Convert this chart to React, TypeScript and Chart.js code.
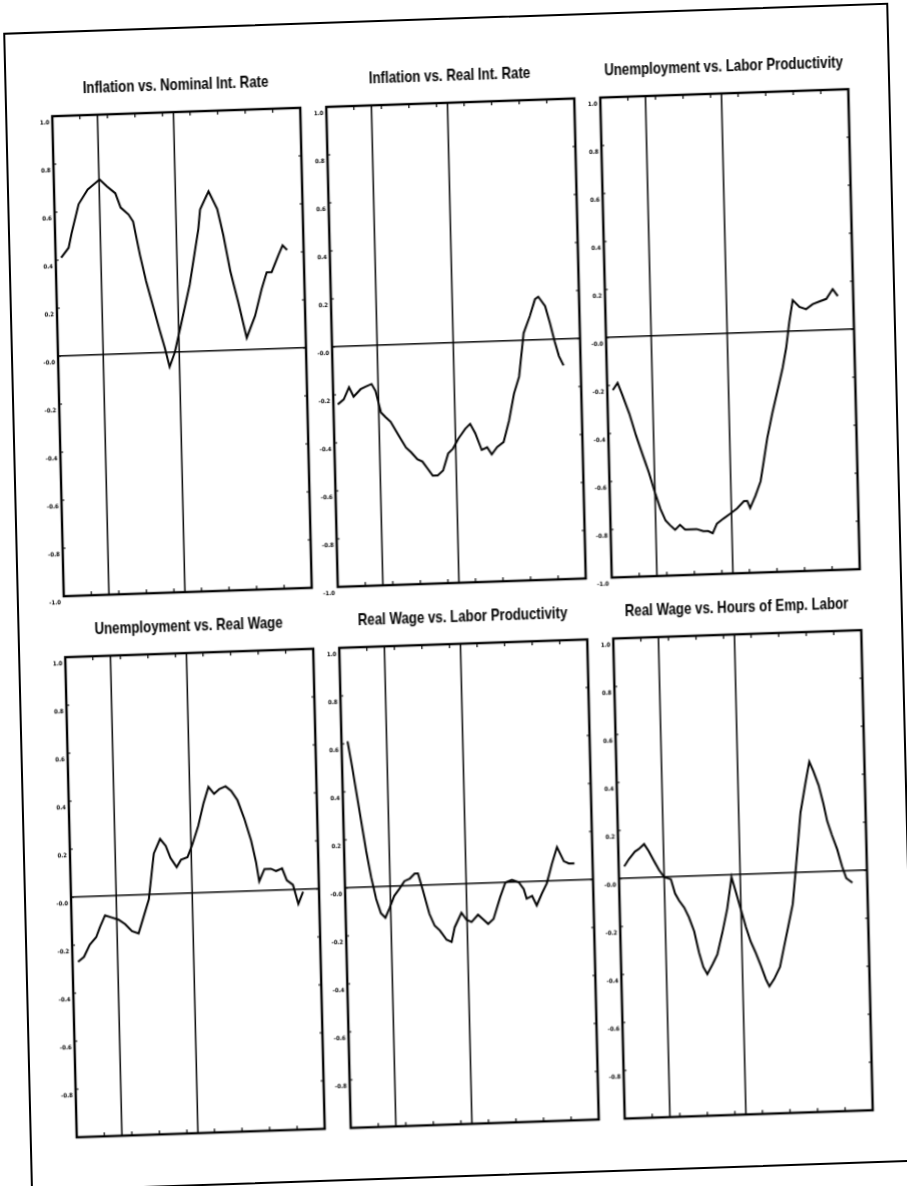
import React, { useEffect, useRef } from "react";
import { Chart, registerables } from "chart.js";

Chart.register(...registerables);

// ---------- data ----------
const TITLES = [
  "Inflation vs. Nominal Int. Rate",
  "Inflation vs. Real Int. Rate",
  "Unemployment vs. Labor Productivity",
  "Unemployment vs. Real Wage",
  "Real Wage vs. Labor Productivity",
  "Real Wage vs. Hours of Emp. Labor",
];

const X_MIN = 0;
const X_MAX = 45;
const X_STEP = 5;
const Y_MIN = -1;
const Y_MAX = 1;
const Y_STEP = 0.2;
const MARKER_LAGS = [8.2, 22.0];

const lags1 = [1.0, 2.4, 3.0, 4.4, 6.1, 8.3, 9.6, 11.1, 12.0, 13.4, 14.2, 15.3, 16.3, 17.5, 18.6, 19.4, 20.2, 21.2, 22.5, 24.2, 26.0, 26.4, 28.0, 29.5, 30.5, 31.6, 32.9, 34.3, 35.9, 37.2, 38.2, 39.1, 40.4, 41.2, 42.0];
const corr1 = [0.41, 0.45, 0.51, 0.63, 0.69, 0.73, 0.70, 0.67, 0.61, 0.58, 0.55, 0.41, 0.30, 0.19, 0.09, 0.02, -0.06, 0.00, 0.12, 0.28, 0.51, 0.59, 0.665, 0.59, 0.48, 0.33, 0.20, 0.05, 0.14, 0.25, 0.32, 0.32, 0.39, 0.43, 0.41];

const lags2 = [0.8, 1.9, 2.9, 3.7, 5.0, 5.9, 7.0, 7.7, 8.6, 9.4, 10.3, 11.5, 13.0, 13.9, 15.0, 15.9, 16.8, 17.7, 18.6, 19.6, 20.6, 21.5, 22.5, 23.8, 24.7, 25.6, 26.7, 27.7, 28.5, 29.5, 30.7, 31.8, 32.8, 33.8, 34.8, 36.0, 37.0, 37.6, 38.8, 39.6, 40.4, 41.1, 41.9];
const corr2 = [-0.24, -0.22, -0.17, -0.21, -0.18, -0.17, -0.16, -0.19, -0.28, -0.30, -0.32, -0.37, -0.43, -0.45, -0.48, -0.49, -0.52, -0.55, -0.55, -0.53, -0.46, -0.44, -0.40, -0.36, -0.34, -0.38, -0.45, -0.44, -0.47, -0.44, -0.42, -0.33, -0.22, -0.15, 0.03, 0.10, 0.17, 0.18, 0.14, 0.07, -0.01, -0.07, -0.11];

const lags3 = [1.0, 1.9, 2.7, 3.9, 5.0, 6.1, 7.2, 8.3, 9.1, 10.0, 10.8, 11.7, 12.6, 13.5, 14.4, 15.6, 16.8, 17.7, 18.5, 19.3, 20.5, 21.8, 23.0, 24.3, 24.9, 25.4, 26.4, 27.4, 28.1, 28.8, 29.8, 30.8, 31.9, 32.6, 33.3, 34.0, 35.2, 36.4, 37.6, 38.8, 40.1, 41.3, 42.2];
const corr3 = [-0.22, -0.19, -0.24, -0.32, -0.41, -0.49, -0.57, -0.66, -0.72, -0.77, -0.79, -0.81, -0.79, -0.81, -0.81, -0.81, -0.82, -0.82, -0.83, -0.79, -0.77, -0.75, -0.73, -0.70, -0.70, -0.73, -0.68, -0.62, -0.53, -0.44, -0.34, -0.25, -0.15, -0.07, 0.04, 0.13, 0.10, 0.09, 0.11, 0.12, 0.13, 0.17, 0.14];

const lags4 = [1.0, 2.1, 3.2, 4.4, 5.1, 6.1, 7.3, 8.5, 9.7, 10.9, 12.1, 13.1, 14.1, 15.2, 16.4, 17.4, 18.2, 19.3, 20.1, 21.3, 22.2, 23.4, 24.4, 25.4, 26.4, 27.4, 28.5, 29.5, 30.6, 31.8, 32.9, 33.7, 34.2, 35.2, 36.4, 37.3, 38.4, 39.2, 40.3, 41.2, 42.1];
const corr4 = [-0.27, -0.25, -0.20, -0.17, -0.13, -0.08, -0.09, -0.10, -0.12, -0.15, -0.16, -0.09, -0.02, 0.17, 0.23, 0.20, 0.15, 0.11, 0.14, 0.15, 0.20, 0.28, 0.37, 0.44, 0.41, 0.43, 0.44, 0.42, 0.38, 0.30, 0.21, 0.12, 0.04, 0.09, 0.09, 0.08, 0.09, 0.04, 0.02, -0.06, -0.01];

const lags5 = [1.1, 1.9, 2.7, 3.2, 4.0, 4.8, 5.6, 6.4, 7.2, 8.0, 8.9, 9.9, 10.8, 11.8, 12.7, 13.3, 14.1, 15.2, 16.1, 17.0, 18.2, 19.1, 19.7, 21.0, 21.9, 22.8, 24.0, 24.9, 25.8, 26.8, 28.1, 29.1, 30.3, 31.5, 32.4, 32.9, 33.9, 34.7, 35.7, 36.6, 37.6, 38.6, 39.2, 39.8, 40.7, 41.7];
const corr5 = [0.61, 0.49, 0.36, 0.28, 0.15, 0.04, -0.05, -0.11, -0.13, -0.09, -0.04, -0.01, 0.02, 0.03, 0.05, 0.05, -0.02, -0.12, -0.17, -0.19, -0.23, -0.24, -0.18, -0.12, -0.15, -0.16, -0.13, -0.15, -0.17, -0.15, -0.06, 0.00, 0.01, 0.00, -0.03, -0.07, -0.06, -0.10, -0.05, -0.01, 0.07, 0.14, 0.11, 0.08, 0.07, 0.07];

const lags6 = [1.0, 1.9, 3.0, 3.7, 4.7, 5.5, 6.4, 7.3, 8.2, 9.4, 10.1, 10.8, 11.7, 12.5, 13.4, 14.2, 14.9, 15.6, 16.6, 17.5, 18.5, 19.5, 20.4, 21.1, 21.9, 22.8, 23.6, 24.5, 25.3, 26.2, 26.8, 27.7, 28.8, 29.6, 30.5, 31.4, 32.4, 33.2, 34.2, 35.0, 35.7, 36.6, 37.4, 38.0, 38.8, 39.7, 40.5, 41.2, 42.3];
const corr6 = [0.05, 0.08, 0.11, 0.12, 0.14, 0.11, 0.07, 0.03, 0.00, -0.01, -0.07, -0.10, -0.13, -0.17, -0.23, -0.32, -0.38, -0.41, -0.37, -0.33, -0.24, -0.14, -0.01, -0.07, -0.14, -0.22, -0.28, -0.33, -0.38, -0.44, -0.47, -0.44, -0.39, -0.31, -0.22, -0.13, 0.08, 0.25, 0.37, 0.46, 0.42, 0.36, 0.28, 0.21, 0.15, 0.09, 0.02, -0.03, -0.05];

const SERIES_LAGS = [lags1, lags2, lags3, lags4, lags5, lags6];
const SERIES_VALUES = [corr1, corr2, corr3, corr4, corr5, corr6];

// ---------- layout / style ----------
const COL_LEFT = [64, 338, 612];
const ROW_TOP = [103, 644];
const PLOT_W = 248;
const PLOT_H = 480;
const M_SIDE = 40;
const M_TOP = 45;
const M_BOTTOM = 15;
const TITLE_GAP = 26.5;
const TITLE_FONT = "bold 17px 'Liberation Sans', Arial, sans-serif";
const TITLE_SCALE_X = 0.78;
const TICK_FONT = "'DejaVu Sans Condensed', 'Liberation Sans', sans-serif";

function makePanelPlugin(title: string) {
  return {
    id: "panelFrame",
    afterDatasetsDraw(chart: any) {
      const { ctx, chartArea: a, scales } = chart;
      const x = scales.x;
      const y = scales.y;
      ctx.save();
      ctx.strokeStyle = "#000";
      ctx.lineWidth = 1.2;
      ctx.beginPath();
      x.ticks.forEach((t: any) => {
        if (t.value <= x.min || t.value >= x.max) return;
        const px = x.getPixelForValue(t.value);
        ctx.moveTo(px, a.top);
        ctx.lineTo(px, a.top + 4);
        ctx.moveTo(px, a.bottom);
        ctx.lineTo(px, a.bottom - 4);
      });
      y.ticks.forEach((t: any) => {
        if (t.value <= y.min + 1e-9 || t.value >= y.max - 1e-9) return;
        const py = y.getPixelForValue(t.value);
        ctx.moveTo(a.left, py);
        ctx.lineTo(a.left + 3, py);
        ctx.moveTo(a.right, py);
        ctx.lineTo(a.right - 3, py);
      });
      ctx.stroke();
      ctx.lineWidth = 2.4;
      ctx.strokeRect(a.left, a.top, a.right - a.left, a.bottom - a.top);
      ctx.restore();
    },
    afterDraw(chart: any) {
      const { ctx, chartArea: a } = chart;
      ctx.save();
      ctx.fillStyle = "#000";
      ctx.font = TITLE_FONT;
      ctx.textAlign = "center";
      ctx.textBaseline = "middle";
      ctx.translate((a.left + a.right) / 2, a.top - TITLE_GAP);
      ctx.scale(TITLE_SCALE_X, 1);
      ctx.fillText(title, 0, 0);
      ctx.restore();
    },
  };
}

function Panel({ index }: { index: number }) {
  const ref = useRef<HTMLCanvasElement | null>(null);
  const col = index % 3;
  const row = Math.floor(index / 3);
  const hideMinLabel = row === 1;

  useEffect(() => {
    if (!ref.current) return;
    const lags = SERIES_LAGS[index];
    const vals = SERIES_VALUES[index];
    const datasets: any[] = [
      {
        data: lags.map((l, i) => ({ x: l, y: vals[i] })),
        borderColor: "#000",
        borderWidth: 2,
        pointRadius: 0,
        tension: 0,
        fill: false,
      },
      ...MARKER_LAGS.map((m) => ({
        data: [
          { x: m, y: Y_MIN },
          { x: m, y: Y_MAX },
        ],
        borderColor: "#000",
        borderWidth: 1.5,
        pointRadius: 0,
        fill: false,
      })),
    ];
    const chart = new Chart(ref.current, {
      type: "line",
      data: { datasets },
      plugins: [makePanelPlugin(TITLES[index])],
      options: {
        animation: false,
        responsive: false,
        devicePixelRatio: 1,
        layout: { autoPadding: false, padding: { left: 0, right: M_SIDE, top: M_TOP, bottom: M_BOTTOM } },
        plugins: {
          legend: { display: false },
          tooltip: { enabled: false },
          title: { display: false },
        },
        scales: {
          x: {
            type: "linear",
            display: false,
            min: X_MIN,
            max: X_MAX,
            ticks: { stepSize: X_STEP },
          },
          y: {
            type: "linear",
            min: Y_MIN,
            max: Y_MAX,
            ticks: {
              stepSize: Y_STEP,
              padding: 3,
              labelOffset: 6,
              color: "#000",
              font: { family: TICK_FONT, size: 6, weight: "bold" },
              callback: (v: any) => {
                const n = Number(v);
                if (hideMinLabel && n <= Y_MIN + 1e-9) return "";
                if (Math.abs(n) < 1e-9) return "-0.0";
                return n.toFixed(1);
              },
            },
            grid: {
              drawTicks: false,
              lineWidth: 1.5,
              color: (c: any) => (c.tick && Math.abs(c.tick.value) < 1e-9 ? "#000" : "rgba(0,0,0,0)"),
            },
            border: { display: false },
            afterFit: (s: any) => {
              s.width = M_SIDE;
              s.paddingTop = 0;
              s.paddingBottom = 0;
            },
          },
        },
      } as any,
    });
    return () => chart.destroy();
  }, [index]);

  return (
    <canvas
      ref={ref}
      width={PLOT_W + 2 * M_SIDE}
      height={M_TOP + PLOT_H + M_BOTTOM}
      style={{
        position: "absolute",
        left: COL_LEFT[col] - M_SIDE,
        top: ROW_TOP[row] - M_TOP,
      }}
    />
  );
}

export default function App() {
  return (
    <div
      style={{
        position: "absolute",
        left: 0,
        top: 0,
        width: 907,
        height: 1186,
        overflow: "hidden",
        background: "#fff",
      }}
    >
      <div
        style={{
          position: "absolute",
          left: 0,
          top: 0,
          width: 907,
          height: 1186,
          transform: "matrix(1, -0.034, 0.024, 1, 0, 0)",
          transformOrigin: "453px 593px",
        }}
      >
        <div
          style={{
            position: "absolute",
            left: 17,
            top: 18,
            width: 885,
            height: 1159,
            border: "2px solid #000",
            boxSizing: "border-box",
          }}
        />
        {TITLES.map((_, i) => (
          <Panel key={i} index={i} />
        ))}
      </div>
    </div>
  );
}
